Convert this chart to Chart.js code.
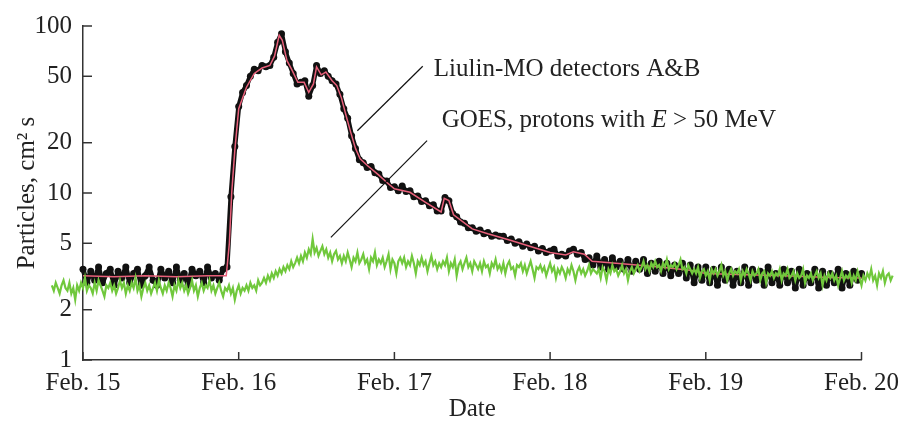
<!DOCTYPE html>
<html>
<head>
<meta charset="utf-8">
<script src="https://cdn.jsdelivr.net/npm/chart.js@4.4.0/dist/chart.umd.min.js"></script>
<style>
  html, body { margin: 0; padding: 0; background: #fff; }
  #wrap { width: 907px; height: 422px; position: relative; }
</style>
</head>
<body>
<div id="wrap"><canvas id="grafico"></canvas></div>
<script>
// eje X: días de febrero
const dayTicks = [15, 16, 17, 18, 19, 20];
const dayLabels = ["Feb. 15", "Feb. 16", "Feb. 17", "Feb. 18", "Feb. 19", "Feb. 20"];
// eje Y logarítmico
const yTicks = [1, 2, 5, 10, 20, 50, 100];

// Liulin-MO, puntos negros cada 0.025 día desde Feb. 15
const liulinStart = 15;
const liulinStep = 0.025;
const liulinVals = [
  3.5, 2.9, 3.4, 3.0, 3.6, 2.9, 3.3, 3.5, 2.8, 3.4,
  3.1, 3.6, 2.9, 3.3, 3.5, 2.8, 3.2, 3.6, 3.0, 2.8,
  3.5, 3.1, 3.4, 2.9, 3.6, 3.0, 3.3, 2.8, 3.5, 3.2,
  3.4, 2.9, 3.6, 3.1, 3.3, 3.0, 3.5, 3.6, 9.5, 19,
  33, 40, 44, 50, 55, 54, 58, 57, 58, 65,
  80, 90, 70, 60, 52, 45, 46, 47, 38, 44,
  58, 52, 54, 50, 47, 45, 39, 32, 28, 22,
  18.5, 15.8, 15.2, 14.2, 14.4, 13.2, 13.0, 11.9, 11.8, 10.8,
  10.9, 10.3, 11.0, 10.2, 10.3, 9.5, 9.6, 8.9, 9.0, 8.4,
  8.5, 7.8, 7.8, 9.4, 9.0, 7.5, 7.2, 6.7, 6.6, 6.2,
  6.2, 5.9, 6.0, 5.7, 5.8, 5.5, 5.6, 5.5, 5.5, 5.2,
  5.3, 5.0, 5.1, 4.8, 4.95, 4.7, 4.8, 4.5, 4.65, 4.4,
  4.5, 4.6, 4.2, 4.3, 4.2, 4.5, 4.6, 4.3, 4.4, 4.0,
  4.1, 3.7, 4.2, 3.6, 4.0, 3.5, 4.1, 3.6, 3.9, 3.5,
  4.0, 3.4, 3.9, 3.5, 4.0, 3.3, 3.8, 3.4, 3.9, 3.3,
  3.8, 3.2, 3.7, 3.3, 3.8, 3.1, 3.7, 2.9, 3.6, 3.0,
  3.6, 2.9, 3.5, 2.8, 3.6, 3.0, 3.5, 2.8, 3.4, 2.9,
  3.6, 2.8, 3.5, 3.0, 3.4, 2.8, 3.6, 2.9, 3.3, 2.8,
  3.5, 2.9, 3.4, 2.7, 3.5, 2.8, 3.3, 2.9, 3.5, 2.7,
  3.4, 2.8, 3.3, 2.9, 3.5, 2.7, 3.3, 2.8, 3.4, 3.0,
  3.3
];

// línea roja promedio de Liulin
const meanDays = [15.0, 15.2, 15.4, 15.6, 15.8, 15.92, 15.94, 15.955, 15.975, 16.0,
  16.05, 16.1, 16.15, 16.2, 16.23, 16.26, 16.28, 16.31, 16.34, 16.38,
  16.42, 16.45, 16.48, 16.5, 16.53, 16.56, 16.6, 16.63, 16.66, 16.69,
  16.72, 16.75, 16.78, 16.83, 16.9, 16.95, 17.0, 17.1, 17.2, 17.3,
  17.32, 17.35, 17.38, 17.5, 17.6, 17.75, 17.9, 18.0, 18.1, 18.15,
  18.22, 18.27, 18.5, 18.7, 18.9, 19.0, 19.2, 19.5, 19.8, 20.0];
const meanVals = [3.2, 3.15, 3.2, 3.15, 3.2, 3.2, 5, 10, 18, 32,
  43, 52, 56, 58, 66, 88, 82, 62, 55, 46,
  46, 40, 45, 57, 51, 53, 47, 44, 37, 29,
  23, 18.5, 16, 14.5, 12.8, 11.6, 10.6, 10.1, 8.8, 7.7,
  9.3, 9.0, 7.4, 6.1, 5.7, 5.2, 4.7, 4.4, 4.25, 4.45,
  4.3, 3.9, 3.75, 3.6, 3.45, 3.3, 3.25, 3.2, 3.12, 3.1];

// GOES, protones E > 50 MeV, cada 0.0125 día desde 14.8
const goesStart = 14.8;
const goesStep = 0.0125;
const goesVals = [
  2.8, 2.6, 2.9, 2.7, 2.5, 2.8, 3.0, 2.7, 2.6, 2.9,
  2.5, 2.7, 2.3, 2.8, 2.6, 2.9, 2.7, 3.1, 2.6, 2.8,
  2.7, 2.5, 2.9, 2.6, 3.0, 2.8, 2.6, 2.4, 2.8, 2.7,
  2.9, 2.6, 2.8, 2.5, 2.7, 3.0, 2.7, 2.9, 2.5, 2.8,
  2.6, 2.9, 2.7, 3.1, 2.6, 2.8, 2.4, 2.7, 2.9, 2.6,
  2.8, 2.5, 2.7, 2.9, 2.6, 3.0, 2.7, 2.5, 2.8, 2.6,
  2.9, 2.7, 2.4, 2.8, 2.6, 3.0, 2.7, 2.9, 2.6, 2.8,
  2.5, 2.7, 3.0, 2.6, 2.8, 2.4, 2.7, 2.9, 2.6, 2.8,
  2.7, 3.0, 2.6, 2.8, 2.5, 2.7, 2.9, 2.6, 2.4, 2.7,
  2.6, 2.8, 2.5, 2.7, 2.3, 2.6, 2.8, 2.5, 2.7, 2.6,
  2.8, 2.6, 2.9, 2.7, 2.8, 2.6, 3.0, 2.8, 2.9, 3.1,
  2.9, 3.2, 3.0, 3.3, 3.1, 3.4, 3.2, 3.5, 3.3, 3.6,
  3.4, 3.7, 3.5, 3.9, 3.6, 3.8, 4.1, 3.8, 4.2, 3.9,
  4.4, 4.1, 4.6, 4.3, 5.3, 4.4, 4.7, 4.2, 4.5, 4.8,
  4.3, 4.6, 4.1, 4.4, 3.9, 4.3, 4.5, 4.0, 4.2, 3.8,
  4.2, 3.9, 4.4, 4.0, 3.6, 4.1, 3.9, 4.4, 3.8, 4.0,
  4.3, 3.8, 4.0, 3.5, 4.1, 3.9, 4.4, 3.7, 4.0, 3.8,
  4.1, 3.6, 3.9, 4.3, 3.5, 4.0, 3.8, 3.3, 3.9, 4.1,
  3.8, 4.1, 3.6, 3.9, 3.7, 4.2, 3.8, 3.3, 3.9, 3.7,
  4.1, 3.7, 3.9, 3.4, 3.8, 4.2, 3.7, 3.9, 3.5, 3.8,
  3.6, 3.9, 3.7, 4.1, 3.4, 3.8, 3.6, 4.0, 3.2, 3.7,
  3.9, 3.5, 3.8, 4.1, 3.6, 3.8, 3.4, 3.9, 3.7, 3.5,
  3.8, 3.4, 3.9, 3.6, 3.7, 3.3, 3.8, 3.6, 4.0, 3.5,
  3.7, 3.4, 3.8, 3.3, 3.7, 3.9, 3.5, 3.6, 3.2, 3.7,
  3.6, 3.8, 3.4, 3.7, 3.3, 3.6, 3.9, 3.5, 3.1, 3.6,
  3.5, 3.7, 3.4, 3.6, 3.2, 3.5, 3.8, 3.4, 3.6, 3.1,
  3.5, 3.3, 3.6, 3.4, 3.1, 3.5, 3.3, 3.7, 3.4, 3.0,
  3.4, 3.6, 3.3, 3.5, 3.2, 3.4, 3.7, 3.3, 3.5, 3.4,
  3.3, 3.5, 3.1, 3.6, 3.4, 3.0, 3.5, 3.3, 3.7, 3.4,
  3.5, 3.2, 3.4, 3.7, 3.3, 3.5, 3.0, 3.4, 3.6, 3.3,
  3.5, 3.7, 3.4, 3.6, 3.9, 3.5, 3.7, 3.4, 3.8, 3.6,
  3.9, 3.6, 3.7, 3.4, 3.8, 3.6, 4.0, 3.5, 3.7, 3.6,
  3.8, 3.5, 3.7, 4.0, 3.5, 3.6, 3.3, 3.7, 3.5, 3.3,
  3.5, 3.3, 3.6, 3.1, 3.4, 3.5, 3.2, 3.4, 3.0, 3.5,
  3.3, 3.5, 3.2, 3.4, 3.7, 3.2, 3.4, 3.0, 3.3, 3.5,
  3.2, 3.4, 3.3, 3.5, 3.0, 3.4, 3.2, 3.5, 3.3, 3.0,
  3.4, 3.2, 3.3, 3.5, 3.0, 3.3, 3.4, 2.9, 3.3, 3.2,
  3.4, 3.1, 3.3, 3.2, 3.5, 3.0, 3.3, 3.2, 3.5, 3.1,
  3.2, 3.4, 3.0, 3.3, 3.1, 3.2, 3.5, 2.9, 3.2, 3.1,
  3.3, 3.0, 3.2, 3.4, 3.1, 3.3, 2.8, 3.2, 3.0, 3.3,
  3.1, 3.3, 3.0, 3.2, 2.8, 3.1, 3.4, 3.0, 3.2, 3.1,
  3.3, 2.9, 3.2, 3.0, 3.4, 3.1, 2.8, 3.2, 3.0, 3.3,
  3.1, 3.5, 3.0, 3.2, 2.8, 3.3, 3.1, 3.4, 2.9, 3.2,
  3.3, 3.0, 3.2
];

// rótulos con sus líneas guía (en coordenadas día / valor)
const notas = [
  { parts: [["Liulin-MO detectors A&B", ""]], from: [16.762, 23.6], to: [17.182, 57.4], at: [17.253, 50] },
  { parts: [["GOES, protons with ", ""], ["E", "italic "], [" > 50 MeV", ""]], from: [16.592, 5.42], to: [17.21, 20.6], at: [17.304, 24.7] }
];

const fuente = '"Liberation Serif", "Times New Roman", serif';
const tinta = "#222";

const liulinData = liulinVals.map((v, i) => ({ x: liulinStart + i * liulinStep, y: v }));
const meanData = meanVals.map((v, i) => ({ x: meanDays[i], y: v }));
const goesData = goesVals.map((v, i) => ({ x: goesStart + i * goesStep, y: v }));

const marcas = {
  id: "marcas",
  afterDraw(chart) {
    const { ctx, chartArea: a, scales: { x, y } } = chart;
    ctx.save();
    ctx.strokeStyle = "#333";
    ctx.lineWidth = 1.5;
    dayTicks.forEach(d => {
      const px = x.getPixelForValue(d);
      ctx.beginPath();
      ctx.moveTo(px, a.bottom);
      ctx.lineTo(px, a.bottom - 8);
      ctx.stroke();
    });
    yTicks.forEach(v => {
      const py = y.getPixelForValue(v);
      ctx.beginPath();
      ctx.moveTo(a.left, py);
      ctx.lineTo(a.left + 9, py);
      ctx.stroke();
    });

    ctx.lineWidth = 1.2;
    ctx.strokeStyle = "#111";
    ctx.fillStyle = tinta;
    ctx.textBaseline = "alphabetic";
    ctx.textAlign = "left";
    notas.forEach(n => {
      ctx.beginPath();
      ctx.moveTo(x.getPixelForValue(n.from[0]), y.getPixelForValue(n.from[1]));
      ctx.lineTo(x.getPixelForValue(n.to[0]), y.getPixelForValue(n.to[1]));
      ctx.stroke();
      let tx = x.getPixelForValue(n.at[0]);
      const ty = y.getPixelForValue(n.at[1]);
      n.parts.forEach(([txt, estilo]) => {
        ctx.font = estilo + "25px " + fuente;
        ctx.fillText(txt, tx, ty);
        tx += ctx.measureText(txt).width;
      });
    });
    ctx.restore();
  }
};

const ctx = document.getElementById("grafico").getContext("2d");
new Chart(ctx, {
  type: "line",
  data: {
    datasets: [
      {
        label: "GOES",
        data: goesData,
        borderColor: "#70c83c",
        borderWidth: 2.2,
        pointRadius: 0,
        tension: 0,
        clip: false,
        order: 1
      },
      {
        label: "Liulin mean",
        data: meanData,
        borderColor: "#e8607a",
        borderWidth: 1.5,
        pointRadius: 0,
        tension: 0,
        order: 2
      },
      {
        label: "Liulin-MO detectors A&B",
        data: liulinData,
        borderColor: "#111",
        borderWidth: 5,
        borderJoinStyle: "round",
        borderCapStyle: "round",
        pointRadius: 3.5,
        pointBackgroundColor: "#111",
        pointBorderWidth: 0,
        tension: 0,
        order: 3
      }
    ]
  },
  options: {
    responsive: true,
    maintainAspectRatio: false,
    animation: false,
    devicePixelRatio: 1,
    events: [],
    layout: { padding: { top: 23, right: 43, left: 0, bottom: 0 } },
    plugins: {
      legend: { display: false },
      tooltip: { enabled: false }
    },
    scales: {
      x: {
        type: "linear",
        afterDataLimits(s) { s.min = dayTicks[0]; s.max = dayTicks[dayTicks.length - 1]; },
        afterBuildTicks(s) { s.ticks = dayTicks.map(v => ({ value: v })); },
        afterFit(s) { s.height = 62; },
        grid: { display: false, drawTicks: false },
        border: { display: true, color: "#333", width: 1.5 },
        ticks: {
          autoSkip: false,
          maxRotation: 0,
          padding: 8,
          color: tinta,
          font: { family: fuente, size: 25 },
          callback: (v, i) => dayLabels[i]
        },
        title: { display: true, text: "Date", color: tinta, padding: 0, font: { family: fuente, size: 25, lineHeight: 1 } }
      },
      y: {
        type: "logarithmic",
        min: 1,
        max: 100,
        afterBuildTicks(s) { s.ticks = yTicks.map(v => ({ value: v })); },
        afterFit(s) { s.width = 83; },
        grid: { display: false, drawTicks: false },
        border: { display: true, color: "#333", width: 1.5 },
        ticks: {
          autoSkip: false,
          padding: 11,
          color: tinta,
          font: { family: fuente, size: 25 },
          callback: v => String(v)
        },
        title: { display: true, text: "Particles, cm² s", color: tinta, padding: { top: 15, bottom: 0 }, font: { family: fuente, size: 25, lineHeight: 1 } }
      }
    }
  },
  plugins: [marcas]
});
</script>
</body>
</html>
